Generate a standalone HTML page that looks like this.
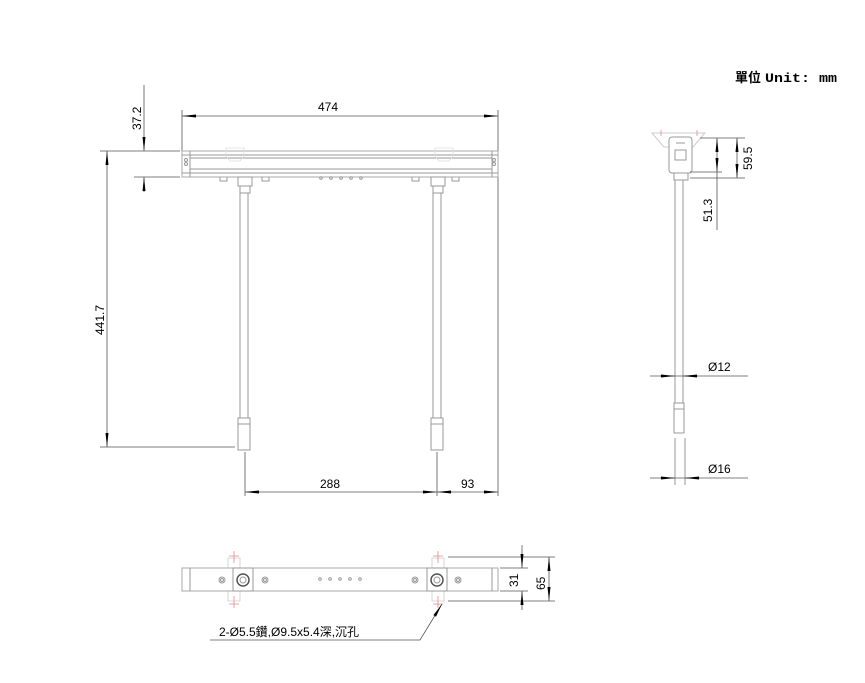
<!DOCTYPE html>
<html><head><meta charset="utf-8"><style>
body{margin:0;background:#fff;width:865px;height:683px;overflow:hidden}
svg{display:block}
text{font-family:"Liberation Sans","Noto Sans CJK TC",sans-serif;font-size:12px;fill:#000}
.l{stroke:#999;stroke-width:1;fill:none}
.d{stroke:#555;stroke-width:0.8;fill:none}
.p{stroke:#aaa;stroke-width:1;fill:#fff}
.r{stroke:#e88;stroke-width:0.8;fill:none}
</style></head><body>
<svg width="865" height="683" viewBox="0 0 865 683">
<defs><marker id="a" markerWidth="14" markerHeight="6" refX="14" refY="3" orient="auto" markerUnits="userSpaceOnUse"><path d="M0,1.5 L14,3 L0,4.5z" fill="#000"/></marker>
<marker id="b" markerWidth="14" markerHeight="6" refX="0" refY="3" orient="auto" markerUnits="userSpaceOnUse"><path d="M14,1.5 L0,3 L14,4.5z" fill="#000"/></marker></defs>
<text x="735" y="82" style="font-weight:bold;font-size:13px">單位</text>
<text x="765" y="82" style="font-weight:bold;font-size:13px;font-family:'Liberation Mono',monospace" textLength="72" lengthAdjust="spacingAndGlyphs">Unit: mm</text>

<!-- front view -->
<line class="d" x1="182" y1="110" x2="182" y2="151"/><line class="d" x1="498" y1="110" x2="498" y2="496"/>
<line class="d" x1="182" y1="116" x2="498" y2="116" marker-start="url(#b)" marker-end="url(#a)"/>
<text x="318" y="111">474</text>
<line class="d" x1="134" y1="151" x2="180" y2="151"/><line class="d" x1="134" y1="177" x2="180" y2="177"/>
<line class="d" x1="144" y1="85" x2="144" y2="151" marker-end="url(#a)"/>
<line class="d" x1="144" y1="192" x2="144" y2="177" marker-end="url(#a)"/>
<text transform="translate(141,130) rotate(-90)">37.2</text>
<line class="d" x1="100" y1="151" x2="134" y2="151"/><line class="d" x1="100" y1="447" x2="235" y2="447"/>
<line class="d" x1="107" y1="151" x2="107" y2="447" marker-start="url(#b)" marker-end="url(#a)"/>
<text transform="translate(104,335) rotate(-90)">441.7</text>
<rect class="p" x="182" y="151" width="316" height="26"/>
<line class="l" x1="182" y1="155" x2="498" y2="155"/><line class="l" x1="190" y1="158" x2="492" y2="158"/>
<line class="l" x1="190" y1="169" x2="492" y2="169"/><line class="l" x1="182" y1="173" x2="498" y2="173"/>
<line class="l" x1="190" y1="151" x2="190" y2="177"/><line class="l" x1="492" y1="151" x2="492" y2="177"/>
<circle class="l" cx="186" cy="160" r="1.5"/><circle class="l" cx="186" cy="164" r="1.5"/><circle class="l" cx="494" cy="160" r="1.5"/><circle class="l" cx="494" cy="164" r="1.5"/>
<path class="r" style="stroke:#ddd" d="M226,148 h18 v8 l-4,5 h-10 l-4,-5z M435,148 h18 v8 l-4,5 h-10 l-4,-5z"/>
<path class="l" d="M220,177 v4 h7 v-4 M262,177 v4 h7 v-4 M412,177 v4 h7 v-4 M452,177 v4 h7 v-4"/>
<g class="l"><circle cx="321" cy="178" r="1.3"/><circle cx="331" cy="178" r="1.3"/><circle cx="341" cy="178" r="1.3"/><circle cx="351" cy="178" r="1.3"/><circle cx="361" cy="178" r="1.3"/></g>
<rect class="l" x="238" y="177" width="14" height="9"/><rect class="l" x="240" y="186" width="10" height="7"/>
<rect class="l" x="431" y="177" width="14" height="9"/><rect class="l" x="433" y="186" width="10" height="7"/>
<rect class="l" x="240" y="193" width="8" height="225"/><rect class="l" x="433" y="193" width="8" height="225"/>
<rect class="l" x="238" y="418" width="12" height="32"/><line class="l" x1="238" y1="424" x2="250" y2="424"/>
<rect class="l" x="431" y="418" width="12" height="32"/><line class="l" x1="431" y1="424" x2="443" y2="424"/>
<line class="d" x1="245" y1="452" x2="245" y2="496"/><line class="d" x1="437" y1="452" x2="437" y2="496"/>
<line class="d" x1="245" y1="492" x2="437" y2="492" marker-start="url(#b)" marker-end="url(#a)"/>
<line class="d" x1="437" y1="492" x2="498" y2="492" marker-start="url(#b)" marker-end="url(#a)"/>
<text x="320" y="488">288</text><text x="461" y="488">93</text>

<!-- side view -->
<path class="l" style="stroke:#ccc" d="M652,133 h53 l-12,14 h-29z"/>
<path class="r" d="M661,130 v6 M697,130 v6"/>
<rect class="l" x="669" y="137" width="23" height="36" rx="3" style="fill:#fff"/>
<rect class="l" x="675" y="150" width="11" height="10"/>
<line class="l" x1="676" y1="143" x2="685" y2="143"/>
<rect class="l" x="674" y="173" width="14" height="7"/>
<rect class="l" x="675" y="180" width="8" height="223"/>
<rect class="l" x="674" y="403" width="10" height="30"/><line class="l" x1="674" y1="409" x2="684" y2="409"/>
<line class="l" x1="675" y1="438" x2="675" y2="485"/><line class="l" x1="685" y1="438" x2="685" y2="485"/>
<line class="d" x1="700" y1="138" x2="745" y2="138"/><line class="d" x1="690" y1="172" x2="722" y2="172"/><line class="d" x1="690" y1="178" x2="745" y2="178"/>
<line class="d" x1="737" y1="138" x2="737" y2="178" marker-start="url(#b)" marker-end="url(#a)"/>
<line class="d" x1="717" y1="138" x2="717" y2="172" marker-start="url(#b)" marker-end="url(#a)"/>
<line class="d" x1="717" y1="172" x2="717" y2="230"/>
<text transform="translate(752,170) rotate(-90)">59.5</text>
<text transform="translate(712,222) rotate(-90)">51.3</text>
<line class="d" x1="650" y1="376" x2="748" y2="376"/>
<line class="d" x1="660" y1="376" x2="675" y2="376" marker-end="url(#a)"/><line class="d" x1="698" y1="376" x2="683" y2="376" marker-end="url(#a)"/>
<text x="708" y="371">Ø12</text>
<line class="d" x1="650" y1="478" x2="748" y2="478"/>
<line class="d" x1="660" y1="478" x2="675" y2="478" marker-end="url(#a)"/><line class="d" x1="700" y1="478" x2="685" y2="478" marker-end="url(#a)"/>
<text x="708" y="473">Ø16</text>

<!-- bottom view -->
<g class="r"><path d="M228,558 h12 v10 h-12z M228,591 h12 v10 h-12z M432,558 h12 v10 h-12z M432,591 h12 v10 h-12z" style="stroke:#ccc"/>
<path d="M234,551 v12 M229,556 h10 M234,596 v12 M229,604 h10 M438,551 v12 M433,556 h10 M438,596 v12 M433,604 h10"/></g>
<rect class="p" x="182" y="568" width="316" height="23" style="fill:none"/>
<line class="l" x1="190" y1="568" x2="190" y2="591"/><line class="l" x1="492" y1="568" x2="492" y2="591"/>
<rect class="l" x="233" y="568" width="20" height="23"/><rect class="l" x="427" y="568" width="20" height="23"/>
<circle cx="243" cy="580" r="6" fill="none" stroke="#555" stroke-width="1.5"/><circle cx="243" cy="580" r="3" class="l"/>
<circle cx="437" cy="580" r="6" fill="none" stroke="#555" stroke-width="1.5"/><circle cx="437" cy="580" r="3" class="l"/>
<g class="l"><circle cx="222" cy="580" r="3"/><circle cx="222" cy="580" r="1.5"/><circle cx="265" cy="580" r="3"/><circle cx="265" cy="580" r="1.5"/><circle cx="415" cy="580" r="3"/><circle cx="415" cy="580" r="1.5"/><circle cx="458" cy="580" r="3"/><circle cx="458" cy="580" r="1.5"/>
<circle cx="320" cy="579" r="1.3"/><circle cx="330" cy="579" r="1.3"/><circle cx="340" cy="579" r="1.3"/><circle cx="350" cy="579" r="1.3"/><circle cx="360" cy="579" r="1.3"/></g>
<line class="d" x1="500" y1="568" x2="528" y2="568"/><line class="d" x1="500" y1="591" x2="528" y2="591"/>
<line class="d" x1="448" y1="557" x2="555" y2="557"/><line class="d" x1="448" y1="601" x2="555" y2="601"/>
<line class="d" x1="522" y1="545" x2="522" y2="568" marker-end="url(#a)"/><line class="d" x1="522" y1="610" x2="522" y2="591" marker-end="url(#a)"/>
<line class="d" x1="549" y1="557" x2="549" y2="601" marker-start="url(#b)" marker-end="url(#a)"/>
<text transform="translate(518,587) rotate(-90)">31</text>
<text transform="translate(545,590) rotate(-90)">65</text>
<polyline class="d" points="210,640 420,640 442,604" marker-end="url(#a)"/>
<text x="219" y="636">2-Ø5.5鑽,Ø9.5x5.4深,沉孔</text>
</svg>
</body></html>
